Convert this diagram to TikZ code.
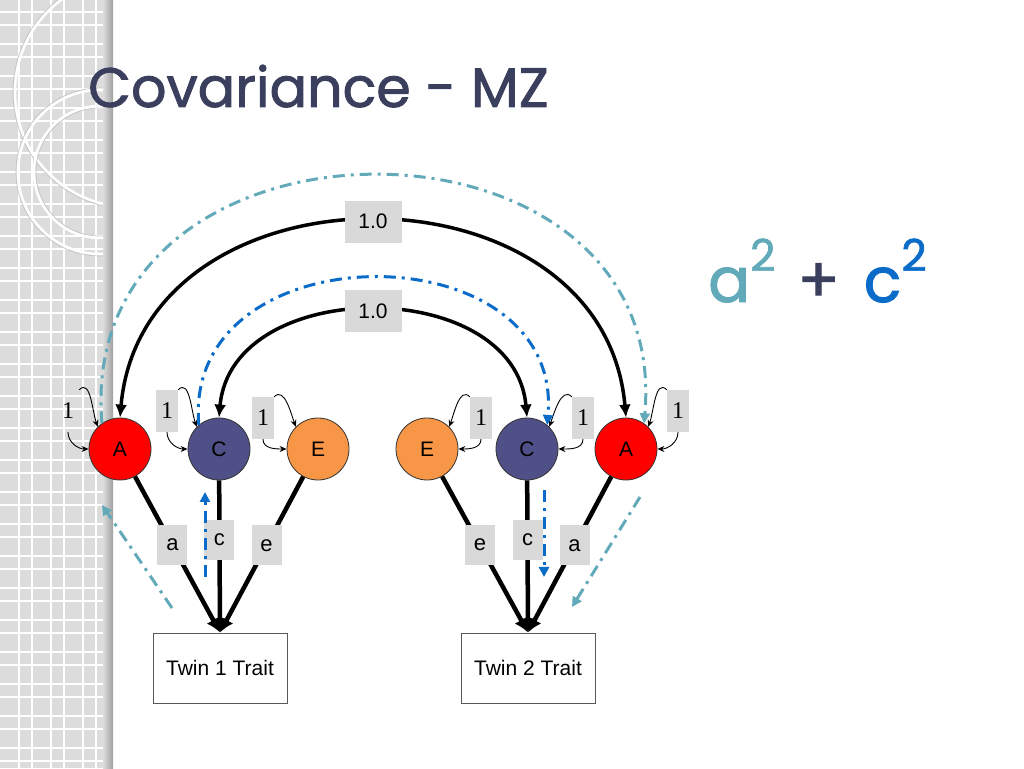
\documentclass[tikz,border=0pt]{standalone}
\usepackage{fontspec}
\setmainfont{Liberation Sans}
\newfontfamily\serifone{Liberation Serif}
\newfontfamily\slidefont[FakeBold=1.6]{Poppins}
\usetikzlibrary{arrows.meta}
\definecolor{slidenavy}{HTML}{3B3F5E}
\definecolor{varA}{HTML}{FF0000}
\definecolor{varC}{HTML}{505088}
\definecolor{varE}{HTML}{F79646}
\definecolor{traceA}{HTML}{62AAB9}
\definecolor{traceC}{HTML}{0A6CC8}
\definecolor{lblgray}{HTML}{D9D9D9}
\definecolor{stripgray}{HTML}{DCDCDC}
\newcommand{\sqsup}{\raisebox{0.5em}{\fontsize{44}{44}\selectfont 2}}

\begin{document}
\begin{tikzpicture}[x=1pt,y=1pt,
  latent/.style={circle, draw=black!80, line width=0.8pt, minimum size=62pt, inner sep=0pt, font=\fontsize{21}{21}\selectfont},
  trait/.style={draw=black!65, line width=1pt, minimum width=134pt, minimum height=70pt, inner sep=0pt, font=\fontsize{21}{21}\selectfont},
  pathlbl/.style={fill=lblgray, minimum width=30pt, minimum height=40pt, inner sep=0pt, font=\fontsize{22}{22}\selectfont},
  corrlbl/.style={fill=lblgray, minimum width=57pt, minimum height=42pt, inner sep=0pt, font=\fontsize{21}{21}\selectfont},
  onelbl/.style={fill=lblgray, minimum width=22pt, minimum height=42pt, inner sep=0pt, font=\serifone\fontsize{24}{24}\selectfont},
  pathline/.style={line width=4.5pt, -{Latex[length=14pt,width=15pt]}},
  corrline/.style={line width=3.5pt, {Latex[length=13pt,width=12pt]}-{Latex[length=13pt,width=12pt]}},
  selfloop/.style={line width=0.9pt, -{Stealth[length=7pt,width=6pt]}},
  tracing/.style={line width=3pt, dash pattern=on 12pt off 6pt on 3pt off 6pt, -{Triangle[length=10pt,width=10pt]}}]
\useasboundingbox (0,0) rectangle (1024,768);
% slide strip
\fill[stripgray] (0,0) rectangle (112,768);
\foreach \g in {0,32,...,96} {\draw[white, line width=1.2pt] (\g+19,0) -- (\g+19,768); \draw[white, line width=1.2pt] (\g+32,0) -- (\g+32,768);}
\foreach \g in {0,32,...,768} {\draw[white, line width=1.2pt] (0,\g+7) -- (112,\g+7); \draw[white, line width=1.2pt] (0,\g+20) -- (112,\g+20);}
\begin{scope}
\clip (0,0) rectangle (112,768);
\draw[white, line width=2.5pt] (130,676) circle (115); \draw[gray!45, line width=0.7pt] (130,676) circle (117);
\draw[white, line width=2.5pt] (100,596) circle (82); \draw[gray!45, line width=0.7pt] (100,596) circle (84);
\draw[white, line width=2.5pt] (100,596) circle (66); \draw[gray!45, line width=0.7pt] (100,596) circle (64);
\end{scope}
\shade[left color=stripgray, right color=gray!75] (103,0) rectangle (113,768);

% titles
\node[font=\slidefont\fontsize{55.5}{55.5}\selectfont, text=slidenavy, anchor=base west, inner sep=0pt] (title) at (88,661) {Covariance - MZ};
\node[font=\slidefont\fontsize{62}{62}\selectfont, anchor=base west, inner sep=0pt] (covform) at (708,466) {\textcolor{traceA}{a\sqsup}\hspace{22pt}\textcolor{slidenavy}{+}\hspace{24pt}\textcolor{traceC}{c\sqsup}};

% latent variables and traits
\node[latent, fill=varA] (A1) at (120,319) {A};
\node[latent, fill=varC] (C1) at (219,319) {C};
\node[latent, fill=varE] (E1) at (318,319) {E};
\node[latent, fill=varE] (E2) at (427,319) {E};
\node[latent, fill=varC] (C2) at (527,319) {C};
\node[latent, fill=varA] (A2) at (626,319) {A};
\node[trait] (T1) at (220,100) {Twin 1 Trait};
\node[trait] (T2) at (528,100) {Twin 2 Trait};

% paths
\draw[pathline] (A1) -- node[pathlbl, pos=.44] (pa1) {a} (T1.north);
\draw[pathline] (C1) -- node[pathlbl, pos=.39] (pc1) {c} (T1.north);
\draw[pathline] (E1) -- node[pathlbl, pos=.44] (pe1) {e} (T1.north);
\draw[pathline] (E2) -- node[pathlbl, pos=.44] (pe2) {e} (T2.north);
\draw[pathline] (C2) -- node[pathlbl, pos=.39] (pc2) {c} (T2.north);
\draw[pathline] (A2) -- node[pathlbl, pos=.44] (pa2) {a} (T2.north);

% correlations
\draw[corrline] (A1.north) to[out=85,in=95,looseness=1.33] node[corrlbl] (rA) {1.0} (A2.north);
\draw[corrline] (C1.north) to[out=85,in=95,looseness=1.19] node[corrlbl] (rC) {1.0} (C2.north);

% variances
\node[onelbl, fill=none] (o1) at (68,357) {1};
\node[onelbl] (o2) at (167,357) {1};
\node[onelbl] (o3) at (263,350) {1};
\node[onelbl] (o4) at (481,350) {1};
\node[onelbl] (o5) at (583,350) {1};
\node[onelbl] (o6) at (678,357) {1};
\draw[selfloop] (o1.north east) to[out=45,in=110] (A1.135); \draw[selfloop] (o1.south) to[out=-90,in=180] (A1.west);
\draw[selfloop] (o2.north east) to[out=45,in=110] (C1.135); \draw[selfloop] (o2.south) to[out=-90,in=180] (C1.west);
\draw[selfloop] (o3.north east) to[out=45,in=110] (E1.135); \draw[selfloop] (o3.south) to[out=-90,in=180] (E1.west);
\draw[selfloop] (o4.north west) to[out=135,in=70] (E2.45); \draw[selfloop] (o4.south) to[out=-90,in=0] (E2.east);
\draw[selfloop] (o5.north west) to[out=135,in=70] (C2.45); \draw[selfloop] (o5.south) to[out=-90,in=0] (C2.east);
\draw[selfloop] (o6.north west) to[out=135,in=70] (A2.45); \draw[selfloop] (o6.south) to[out=-90,in=0] (A2.east);

% tracing a
\coordinate (ta0) at (172,160); \coordinate (ta1) at (102,263);
\coordinate (ta2) at (640,271); \coordinate (ta3) at (572,161);
\draw[tracing, traceA] (ta0) -- (ta1);
\draw[tracing, traceA] (A1.125) to[out=95,in=85,looseness=1.57] (A2.55);
\draw[tracing, traceA] (ta2) -- (ta3);
% tracing c
\coordinate (tc0) at (205,191); \coordinate (tc1) at (205,276);
\coordinate (tc2) at (544,278); \coordinate (tc3) at (544,191);
\draw[tracing, traceC] (tc0) -- (tc1);
\draw[tracing, traceC] (C1.130) to[out=95,in=85,looseness=1.45] (C2.50);
\draw[tracing, traceC] (tc2) -- (tc3);
\end{tikzpicture}
\end{document}
